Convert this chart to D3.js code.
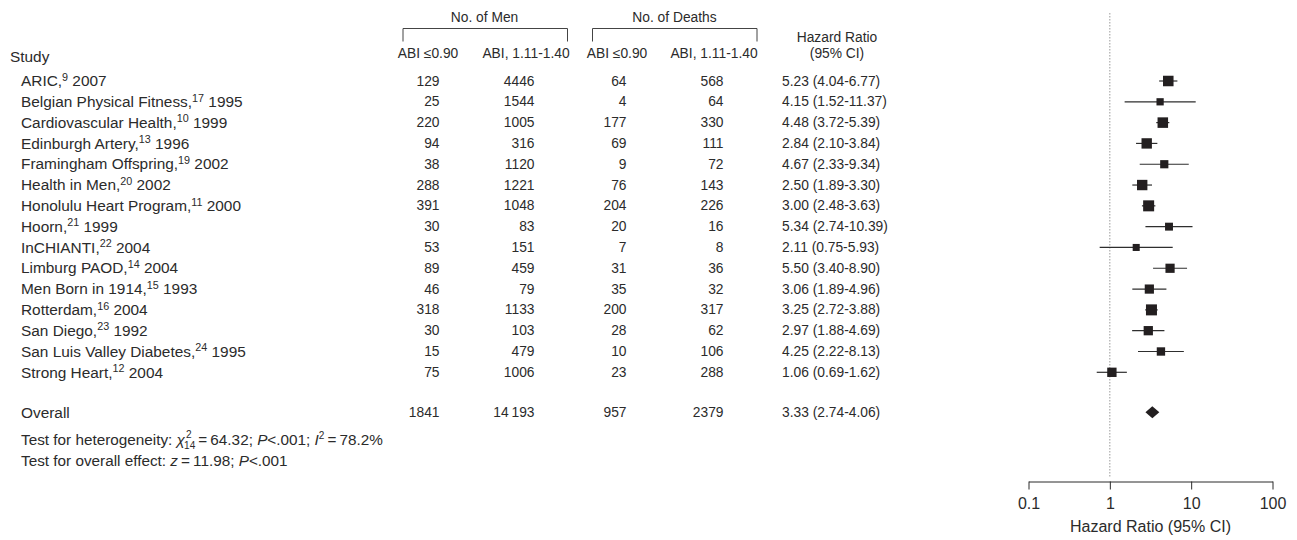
<!DOCTYPE html>
<html>
<head>
<meta charset="utf-8">
<script src="https://cdn.jsdelivr.net/npm/d3@7"></script>
<style>
  html, body { margin: 0; padding: 0; background: #fff; }
  svg text { font-family: "Liberation Sans", Arial, Helvetica, sans-serif; fill: #2b2b2b; }
</style>
</head>
<body>
<svg id="chart" width="1297" height="540"></svg>
<script>
// Studies in the pooled analysis
const studies = ["ARIC", "Belgian Physical Fitness", "Cardiovascular Health", "Edinburgh Artery",
  "Framingham Offspring", "Health in Men", "Honolulu Heart Program", "Hoorn", "InCHIANTI",
  "Limburg PAOD", "Men Born in 1914", "Rotterdam", "San Diego", "San Luis Valley Diabetes", "Strong Heart"];
const refs = [9, 17, 10, 13, 19, 20, 11, 21, 22, 14, 15, 16, 23, 24, 12];
const years = [2007, 1995, 1999, 1996, 2002, 2002, 2000, 1999, 2004, 2004, 1993, 2004, 1992, 1995, 2004];

// Counts
const menLow = [129, 25, 220, 94, 38, 288, 391, 30, 53, 89, 46, 318, 30, 15, 75];
const menHigh = [4446, 1544, 1005, 316, 1120, 1221, 1048, 83, 151, 459, 79, 1133, 103, 479, 1006];
const deathsLow = [64, 4, 177, 69, 9, 76, 204, 20, 7, 31, 35, 200, 28, 10, 23];
const deathsHigh = [568, 64, 330, 111, 72, 143, 226, 16, 8, 36, 32, 317, 62, 106, 288];

// Hazard ratios with 95% CI
const hr = [5.23, 4.15, 4.48, 2.84, 4.67, 2.50, 3.00, 5.34, 2.11, 5.50, 3.06, 3.25, 2.97, 4.25, 1.06];
const ciLow = [4.04, 1.52, 3.72, 2.10, 2.33, 1.89, 2.48, 2.74, 0.75, 3.40, 1.89, 2.72, 1.88, 2.22, 0.69];
const ciHigh = [6.77, 11.37, 5.39, 3.84, 9.34, 3.30, 3.63, 10.39, 5.93, 8.90, 4.96, 3.88, 4.69, 8.13, 1.62];
// Relative study weights (marker area)
const weights = [7.6, 3.6, 7.6, 7.4, 4.6, 7.4, 8.3, 4.3, 3.4, 5.8, 5.8, 8.3, 5.9, 4.8, 6.0];

// Pooled result
const overallCounts = [1841, 14193, 957, 2379];
const overallHR = 3.33, overallLow = 2.74, overallHigh = 4.06;

// Axis ticks
const tickValues = [0.1, 1, 10, 100];
const tickLabels = ["0.1", "1", "10", "100"];

const svg = d3.select("#chart");
const FS = 13.8;       // table numbers and column headers
const FS_NAME = 15.4;  // study names
const FS_TEST = 15.3;  // test statistics
const FS_AX = 16;      // axis text

const x = d3.scaleLog().domain([0.1, 100]).range([1028.5, 1272.5]);
const y = d3.scaleLinear().domain([0, studies.length - 1]).range([81, 372.3]);
const yOverall = 412.3;
const size = d3.scaleSqrt().domain([0, 8.3]).range([0, 11]);

const fmt = v => v >= 10000 ? d3.format(",")(v).replace(",", "\u2009") : String(v);
const hrText = (h, l, u) => `${h.toFixed(2)} (${l.toFixed(2)}-${u.toFixed(2)})`;

// Column anchors
const colRight = [439.5, 534.5, 626.5, 723.5];
const hrLeft = 782;
const nameLeft = 21;

// ---- Header ----
const head = svg.append("g");
head.append("text").attr("x", 10).attr("y", 56).attr("dominant-baseline", "central")
  .attr("font-size", FS_NAME).text("Study");

const groups = [
  { label: "No. of Men", x0: 403, x1: 567.5, cx: 484.5 },
  { label: "No. of Deaths", x0: 592.5, x1: 757, cx: 674.5 }
];
groups.forEach(g => {
  head.append("text").attr("x", g.cx).attr("y", 17).attr("text-anchor", "middle")
    .attr("dominant-baseline", "central").attr("font-size", FS).text(g.label);
  head.append("path")
    .attr("d", `M${g.x0},41.5V28.5H${g.x1}V41.5`)
    .attr("fill", "none").attr("stroke", "#444").attr("stroke-width", 1);
});
const subHeads = [
  { t: "ABI \u22640.90", cx: 428 }, { t: "ABI, 1.11-1.40", cx: 526 },
  { t: "ABI \u22640.90", cx: 617 }, { t: "ABI, 1.11-1.40", cx: 714 }
];
subHeads.forEach(s => {
  head.append("text").attr("x", s.cx).attr("y", 53).attr("text-anchor", "middle")
    .attr("dominant-baseline", "central").attr("font-size", FS).text(s.t);
});
head.append("text").attr("x", 837).attr("y", 37).attr("text-anchor", "middle")
  .attr("dominant-baseline", "central").attr("font-size", FS).text("Hazard Ratio");
head.append("text").attr("x", 837).attr("y", 53).attr("text-anchor", "middle")
  .attr("dominant-baseline", "central").attr("font-size", FS).text("(95% CI)");

// ---- Study rows ----
const rows = svg.append("g").selectAll("g").data(studies).join("g")
  .attr("transform", (d, i) => `translate(0,${y(i)})`);

const name = rows.append("text").attr("x", nameLeft).attr("y", 5.2)
  .attr("font-size", FS_NAME);
name.append("tspan").text(d => d + ",");
name.append("tspan").attr("font-size", FS_NAME * 0.7).attr("dy", -5.5)
  .text((d, i) => refs[i]);
name.append("tspan").attr("dy", 5.5).text((d, i) => "\u00a0" + years[i]);

const countCols = [menLow, menHigh, deathsLow, deathsHigh];
countCols.forEach((arr, c) => {
  rows.append("text").attr("x", colRight[c]).attr("text-anchor", "end")
    .attr("dominant-baseline", "central").attr("font-size", FS)
    .text((d, i) => fmt(arr[i]));
});
rows.append("text").attr("x", hrLeft).attr("dominant-baseline", "central")
  .attr("font-size", FS).text((d, i) => hrText(hr[i], ciLow[i], ciHigh[i]));

// ---- Overall row ----
const ov = svg.append("g").attr("transform", `translate(0,${yOverall})`);
ov.append("text").attr("x", nameLeft).attr("dominant-baseline", "central")
  .attr("font-size", FS_NAME).text("Overall");
overallCounts.forEach((v, c) => {
  ov.append("text").attr("x", colRight[c]).attr("text-anchor", "end")
    .attr("dominant-baseline", "central").attr("font-size", FS).text(fmt(v));
});
ov.append("text").attr("x", hrLeft).attr("dominant-baseline", "central")
  .attr("font-size", FS).text(hrText(overallHR, overallLow, overallHigh));

// ---- Test statistics ----
const t1 = svg.append("text").attr("x", nameLeft).attr("y", 444.5)
  .attr("font-size", FS_TEST);
t1.append("tspan").text("Test for heterogeneity: ");
t1.append("tspan").attr("font-style", "italic").text("\u03c7");
t1.append("tspan").attr("font-size", FS_TEST * 0.66).attr("dy", -6.5).attr("dx", 1).text("2");
t1.append("tspan").attr("font-size", FS_TEST * 0.66).attr("dy", 11).attr("dx", -7.5).text("14");
t1.append("tspan").attr("dy", -4.5).text("\u2009=\u200964.32; ");
t1.append("tspan").attr("font-style", "italic").text("P");
t1.append("tspan").text("<.001; ");
t1.append("tspan").attr("font-style", "italic").text("I");
t1.append("tspan").attr("font-size", FS_TEST * 0.66).attr("dy", -6).text("2");
t1.append("tspan").attr("dy", 6).text("\u2009=\u200978.2%");

const t2 = svg.append("text").attr("x", nameLeft).attr("y", 465.5)
  .attr("font-size", FS_TEST);
t2.append("tspan").text("Test for overall effect: ");
t2.append("tspan").attr("font-style", "italic").text("z");
t2.append("tspan").text("\u2009=\u200911.98; ");
t2.append("tspan").attr("font-style", "italic").text("P");
t2.append("tspan").text("<.001");

// ---- Forest plot ----
const plot = svg.append("g");
plot.append("line")
  .attr("x1", x(1)).attr("x2", x(1)).attr("y1", 13).attr("y2", 477)
  .attr("stroke", "#9a9a9a").attr("stroke-width", 1).attr("stroke-dasharray", "1.5,1.5");

const marks = plot.selectAll("g.study").data(studies).join("g").attr("class", "study");
marks.append("line")
  .attr("x1", (d, i) => x(ciLow[i])).attr("x2", (d, i) => x(ciHigh[i]))
  .attr("y1", (d, i) => y(i)).attr("y2", (d, i) => y(i))
  .attr("stroke", "#2e2e2e").attr("stroke-width", 1.2);
marks.append("rect")
  .attr("x", (d, i) => x(hr[i]) - size(weights[i]) / 2)
  .attr("y", (d, i) => y(i) - size(weights[i]) / 2)
  .attr("width", (d, i) => size(weights[i]))
  .attr("height", (d, i) => size(weights[i]))
  .attr("fill", "#231f20");

// Pooled estimate diamond
plot.append("path")
  .attr("d", `M${x(overallLow)},${yOverall}L${x(overallHR)},${yOverall - 6}L${x(overallHigh)},${yOverall}L${x(overallHR)},${yOverall + 6}Z`)
  .attr("fill", "#231f20");

// Axis
const axis = d3.axisBottom(x).tickValues(tickValues)
  .tickFormat((d, i) => tickLabels[i]).tickSize(8).tickSizeOuter(0);
const ax = svg.append("g").attr("transform", "translate(0,481.5)").call(axis);
ax.select(".domain").attr("stroke", "#2b2b2b").attr("stroke-width", 1);
ax.selectAll(".tick line").attr("stroke", "#2b2b2b").attr("stroke-width", 1);
ax.selectAll(".tick text").attr("font-size", FS_AX).attr("dy", 0).attr("y", 21.5)
  .attr("dominant-baseline", "central")
  .attr("font-family", "'Liberation Sans', Arial, Helvetica, sans-serif").attr("fill", "#2b2b2b");

svg.append("text").attr("x", x(Math.sqrt(10))).attr("y", 526.5).attr("text-anchor", "middle")
  .attr("dominant-baseline", "central").attr("font-size", FS_AX).text("Hazard Ratio (95% CI)");
</script>
</body>
</html>
